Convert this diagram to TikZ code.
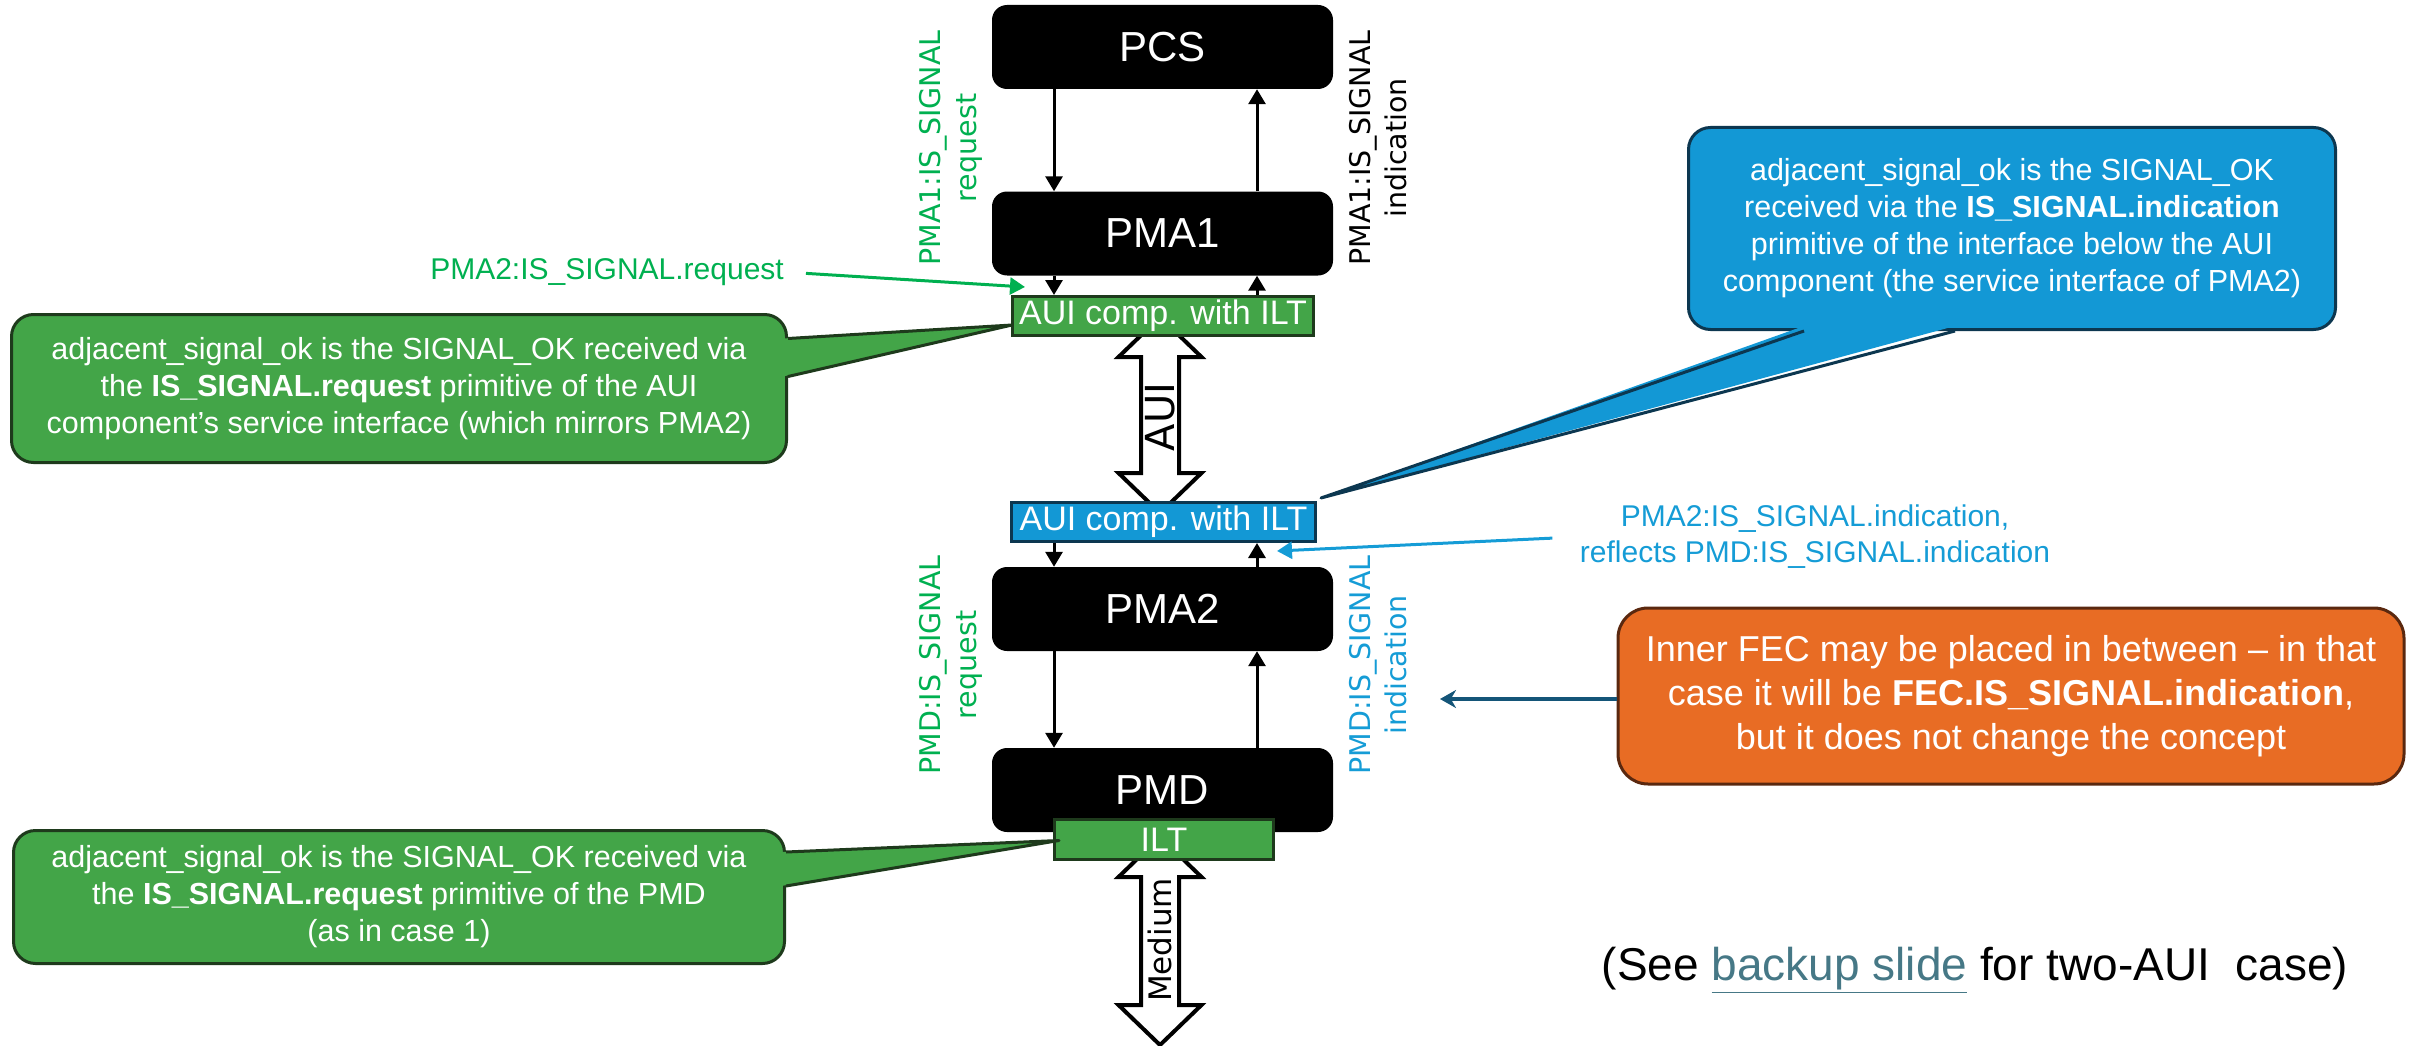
\documentclass[tikz,border=0pt]{standalone}
\usepackage{fontspec}
\setmainfont{Liberation Sans}
\newfontfamily\labelfont{DejaVu Sans}
\usetikzlibrary{calc}
\usetikzlibrary{arrows.meta}

\definecolor{gfill}{RGB}{67,165,72}
\definecolor{gline}{RGB}{30,58,28}
\definecolor{bfill}{RGB}{19,152,213}
\definecolor{bline}{RGB}{12,55,80}
\definecolor{ofill}{RGB}{232,108,36}
\definecolor{oline}{RGB}{90,40,15}
\definecolor{sgreen}{RGB}{0,176,80}
\definecolor{sblue}{RGB}{21,156,214}
\definecolor{darrow}{RGB}{20,85,120}
\definecolor{linkc}{RGB}{70,120,134}

\begin{document}
\begin{tikzpicture}[x=1pt, y=-1pt,
  sublayer/.style={fill=black, rounded corners=15pt, text=white, minimum width=341pt, minimum height=84pt, font=\fontsize{42}{50}\selectfont},
  gbox/.style={fill=gfill, draw=gline, line width=3pt, text=white, inner sep=0pt, minimum height=39pt, font=\fontsize{34}{40}\selectfont},
  bbox/.style={gbox, fill=bfill, draw=bline},
  bubble/.style={line width=3pt, rounded corners=22pt, text=white, align=center, inner sep=0pt, font=\fontsize{30.5}{37}\selectfont},
  sig/.style={line width=3pt, -{Triangle[width=17pt,length=15pt]}},
  vlabel/.style={rotate=90, align=center, font={\labelfont\fontsize{28.5}{36}\selectfont}},
  fat/.style={draw=black, fill=white, line width=4pt}]
\useasboundingbox (0,0) rectangle (2410,1046);

\foreach \yt/\yb/\ym/\lab/\nm/\fs in {317/513/417/AUI/auilab/40, 837/1045/940/Medium/medlab/31} {
 \draw[fat] (1160,\yt) -- (1201.5,\yt+40) -- (1179,\yt+40) -- (1179,\yb-40) -- (1201.5,\yb-40) -- (1160,\yb)
   -- (1118.5,\yb-40) -- (1141,\yb-40) -- (1141,\yt+40) -- (1118.5,\yt+40) -- cycle;
 \node[rotate=90, inner sep=0pt, font={\labelfont\fontsize{\fs}{\fs}\selectfont}] (\nm) at (1160,\ym) {\lab};
}

\node[sublayer] (pcs)  at (1162.5,47)  {PCS};
\node[sublayer] (pma1) at (1162.5,233.5) {PMA1};
\node[sublayer] (pma2) at (1162.5,609) {PMA2};
\node[sublayer] (pmd)  at (1162.5,790) {PMD};
\node[gbox, minimum width=301pt] (auiA) at (1163,316) {AUI comp. with ILT};
\node[bbox, minimum width=304pt] (auiB) at (1163.5,522) {AUI comp. with ILT};
\node[gbox, minimum width=219pt, minimum height=40pt] (ilt) at (1164,839.5) {ILT};

\coordinate (dn) at (1054,0);
\coordinate (up) at (1257,0);
\foreach \a/\b in {pcs/pma1, pma1/auiA, auiB/pma2, pma2/pmd} {
 \draw[sig] (\a.south -| dn) -- (\b.north -| dn);
 \draw[sig] (\b.north -| up) -- (\a.south -| up);
}

\node[vlabel, text=sgreen] (reqA) at (951,148) {PMA1:IS\_SIGNAL\\request};
\node[vlabel] (indA) at (1378,148) {PMA1:IS\_SIGNAL\\indication};
\node[vlabel, text=sgreen] (reqB) at (951,665) {PMD:IS\_SIGNAL\\request};
\node[vlabel, text=sblue] (indB) at (1378,665) {PMD:IS\_SIGNAL\\indication};

\node[text=sgreen, anchor=east, inner sep=0pt, font=\fontsize{30}{36}\selectfont] (reqtxt) at (784,272) {PMA2:IS\_SIGNAL.request};
\draw[sig, sgreen, shorten <=22pt] (reqtxt.east) -- ($(auiA.north west)+(14,-8)$);

\node[text=sblue, align=center, font=\fontsize{30}{36}\selectfont] (indtxt) at (1815,537) {PMA2:IS\_SIGNAL.indication,\\reflects PMD:IS\_SIGNAL.indication};
\draw[sig, sblue, shorten <=24pt] (indtxt.west) -- ($(auiB.south east)+(-40,8)$);

\node[bubble, draw=gline, fill=gfill, minimum width=775pt, minimum height=148pt] (calA) at (399,388.5)
 {adjacent\_signal\_ok is the SIGNAL\_OK received via\\the \textbf{IS\_SIGNAL.request} primitive of the AUI\\component’s service interface (which mirrors PMA2)};
\fill[gfill] ($(calA.east)+(-5,-50)$) -- ($(auiA.west)+(1,9)$) -- ($(calA.east)+(-5,-12)$) -- cycle;
\draw[gline, line width=3pt, line join=round] ($(calA.east)+(0,-50)$) -- ($(auiA.west)+(1,9)$) -- ($(calA.east)+(0,-12)$);

\node[bubble, draw=bline, fill=bfill, minimum width=647pt, minimum height=202pt] (calB) at (2012,228.5)
 {adjacent\_signal\_ok is the SIGNAL\_OK\\received via the \textbf{IS\_SIGNAL.indication}\\primitive of the interface below the AUI\\component (the service interface of PMA2)};
\fill[bfill] ($(calB.south)+(-208,-5)$) -- ($(auiB.north east)+(4,-3)$) -- ($(calB.south)+(-57,-5)$) -- cycle;
\draw[bline, line width=3pt, line join=round] ($(calB.south)+(-208,0)$) -- ($(auiB.north east)+(4,-3)$) -- ($(calB.south)+(-57,0)$);

\node[bubble, draw=gline, fill=gfill, minimum width=771pt, minimum height=133pt] (calC) at (399,897)
 {adjacent\_signal\_ok is the SIGNAL\_OK received via\\the \textbf{IS\_SIGNAL.request} primitive of the PMD\\(as in case 1)};
\fill[gfill] ($(calC.east)+(-5,-45)$) -- ($(ilt.west)+(6,1)$) -- ($(calC.east)+(-5,-11)$) -- cycle;
\draw[gline, line width=3pt, line join=round] ($(calC.east)+(0,-45)$) -- ($(ilt.west)+(6,1)$) -- ($(calC.east)+(0,-11)$);

\node[bubble, draw=oline, fill=ofill, rounded corners=30pt, minimum width=786pt, minimum height=176pt, font=\fontsize{36}{44}\selectfont] (fec) at (2011,696)
 {Inner FEC may be placed in between – in that\\case it will be \textbf{FEC.IS\_SIGNAL.indication},\\but it does not change the concept};
\coordinate (fectip) at (1440,699);
\draw[line width=4pt, darrow, -{Stealth[width=18pt,length=16pt]}] (fec.west |- fectip) -- (fectip);

\node[font=\fontsize{46}{54}\selectfont] (backup) at (1975,970) {(See {\color{linkc}\underline{backup slide}} for two-AUI\ \ case)};
\end{tikzpicture}
\end{document}
